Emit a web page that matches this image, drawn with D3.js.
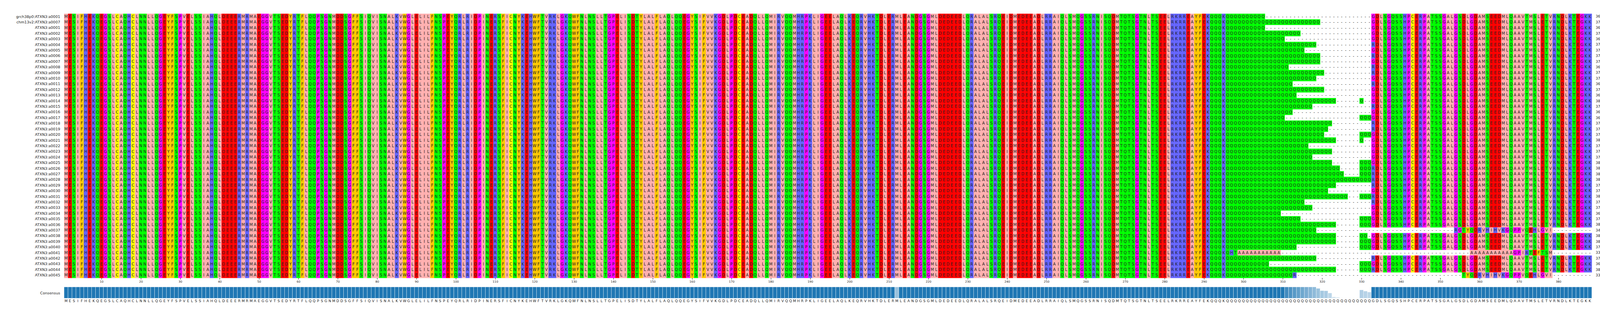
<!DOCTYPE html>
<html><head><meta charset="utf-8">
<script src="https://cdn.jsdelivr.net/npm/d3@7"></script>
<style>html,body{margin:0;background:#fff;overflow:hidden}svg{display:block}</style>
</head><body><svg id="c" width="4139" height="812"></svg>
<script>
const rowNames = ["grch38p0:ATXN3:a0001","chm13v2:ATXN3:a0007"].concat(d3.range(1,46).map(i=>"ATXN3:a"+String(i).padStart(4,"0")));
const prefixSeq = "MESIFHEKQEGSLCAQHCLNNLLQGEYFSPVELSSIAHQLDEEERMRMAEGGVTSEDYRTFLQQPSGNMDDSGFFSIQVISNALKVWGLELILFNSPEY"+
  "QRLRIDPINERSFICNYKEHWFTVRKLGKQWFNLNSLLTGPELISDTYLALFLAQLQQEGYSIFVVKGDLPDCEADQLLQMIRVQQMHRPKLIGEELA"+
  "QLKEQRVHKTDLERMLEANDGSGMLDEDEEDLQRALALSRQEIDMEDEEADLRRAIQLSMQGSSRNISQDMTQTSGTNLTSEELRKRREAYFEKQQQK";
const tailSeq = "DLSGQSSHPCERPATSSGALGSDLGDAMSEEDMLQAAVTMSLETVRNDLKTEGKK";
const nCols = 388;
const qCounts = [10,24,10,19,15,23,20,24,24,16,25,23,17,25,18,28,22,17,15,27,26,25,28,
                 21,27,22,27,29,30,37,28,26,31,20,22,14,19,28,23,28,28,18,0,23,11,28,17];
const qExtra = [0,0,0,0,0,0,0,0,0,0,0,0,0,0,0,1,0,0,3,0,0,3,1,
                0,0,0,3,3,3,0,0,0,3,0,0,0,3,3,0,2,3,3,0,0,3,3,0];
const tailFirst = "GGGGGRGRGRRGRGGGRGGRRGG"+"GGGGRRRRGRRGGGG-GGG-RGR-";
const variantRows = {38:{start:21,seq:"RGTYQDRVHIHVKGQPPVQEHLGVI"},
                     42:{start:25,seq:"AAAAAAAAAAAGPIRTEFTSM",qreg:"QHTAAAAAAAAAAA"},
                     46:{start:23,seq:"TYQDRVHIHVKGQPPVQEHLGVI",qreg:"QQQQQQQQQQQQQQQQQR"}};
const consHeight = {318:0.87,319:0.68,320:0.66,321:0.47,322:0.13,323:0.1,324:0.03,325:0.01,326:0.01,327:0.01,328:0.01,329:0.74,330:0.63,331:0.55};
const consShade = {211:0.45,310:0.85,311:0.8,312:0.75,313:0.7,314:0.65,315:0.6,316:0.55,317:0.5,318:0.45,319:0.4,320:0.38,321:0.3,322:0.2,323:0.15,324:0.1,325:0.05,326:0.05,327:0.05,328:0.05,329:0.35,330:0.32,331:0.3};
const tickVals = d3.range(10,390,10);

const zappo = {I:"#ffafaf",L:"#ffafaf",V:"#ffafaf",A:"#ffafaf",M:"#ffafaf",F:"#ffc800",W:"#ffc800",Y:"#ffc800",
  K:"#6464ff",R:"#6464ff",H:"#6464ff",D:"#ff0000",E:"#ff0000",S:"#00ff00",T:"#00ff00",N:"#00ff00",Q:"#00ff00",
  P:"#ff00ff",G:"#ff00ff",C:"#ffff00"};

const rep = (s,n)=>s.repeat(Math.max(0,n));
const qLen = nCols - prefixSeq.length - tailSeq.length - 1;
const consensus = prefixSeq + rep("Q",qLen) + "G" + tailSeq;
const rows = qCounts.map((q,i)=>{
  const v = variantRows[i];
  const qr = v && v.qreg ? v.qreg : rep("Q",q);
  let qs;
  if(qExtra[i]===0) qs = qr + rep("-",qLen-qr.length);
  else qs = qr + rep("-",qLen-qr.length-3) + (["","Q","QQ","QQQ"][qExtra[i]]+"---").slice(0,3);
  qs = qs.slice(0,qLen);
  let tail;
  if(v){ tail = rep("-",v.start) + v.seq; tail += rep("-",tailSeq.length+1-tail.length); }
  else tail = tailFirst[i] + tailSeq;
  return prefixSeq + qs + tail;
});

const svg = d3.select("#c");
const x = d3.scaleBand().domain(d3.range(nCols)).range([164,4075]);
const y = d3.scaleBand().domain(d3.range(rows.length)).range([35,712]);
const font = "DejaVu Sans, sans-serif";

rows.forEach((s,r)=>{
  const g = svg.append("g");
  const cells = s.split("").map((c,i)=>({c,i})).filter(d=>d.i<nCols);
  g.selectAll("rect").data(cells.filter(d=>d.c!=="-")).join("rect")
    .attr("x",d=>x(d.i)).attr("y",y(r)).attr("width",x.bandwidth()+0.3).attr("height",y.bandwidth()+0.3)
    .attr("fill",d=>zappo[d.c]||"#fff");
  g.selectAll("text").data(cells).join("text")
    .attr("x",d=>x(d.i)+x.bandwidth()/2).attr("y",y(r)+y.bandwidth()/2).attr("dy","0.36em")
    .attr("text-anchor","middle").attr("font-family",font).attr("font-size",10).attr("fill","#222").text(d=>d.c);
  svg.append("text").attr("x",154).attr("y",y(r)+y.bandwidth()/2).attr("dy","0.36em").attr("text-anchor","end")
    .attr("font-family",font).attr("font-size",9.5).attr("fill","#222").text(rowNames[r]);
  svg.append("text").attr("x",4085).attr("y",y(r)+y.bandwidth()/2).attr("dy","0.36em")
    .attr("font-family",font).attr("font-size",9).attr("fill","#222").text(s.replace(/-/g,"").length);
});

const axis = d3.axisBottom(d3.scaleLinear().domain([0.5,nCols+0.5]).range([164,4075]))
  .tickValues(tickVals).tickSize(4).tickFormat(d3.format("d"));
const ag = svg.append("g").attr("transform","translate(0,712)").call(axis);
ag.select(".domain").remove();
ag.selectAll("text").attr("font-family",font).attr("font-size",7.5).attr("fill","#222");
ag.selectAll("line").attr("stroke","#222");

const hY = d3.scaleLinear().domain([0,1]).range([764,735]);
const colr = d3.interpolateRgb("#ffffff","#1f77b4");
svg.append("g").selectAll("rect").data(d3.range(nCols)).join("rect")
  .attr("x",i=>x(i)).attr("width",x.bandwidth())
  .attr("y",i=>hY(consHeight[i]??1)).attr("height",i=>hY(0)-hY(consHeight[i]??1))
  .attr("fill",i=>colr(consShade[i]??1)).attr("stroke","#fff").attr("stroke-width",0.6);
svg.append("g").selectAll("text").data(consensus.split("").slice(0,nCols)).join("text")
  .attr("x",(d,i)=>x(i)+x.bandwidth()/2).attr("y",771).attr("dy","0.36em").attr("text-anchor","middle")
  .attr("font-family",font).attr("font-size",9).attr("fill","#222").text(d=>d);
svg.append("text").attr("x",154).attr("y",751).attr("dy","0.36em").attr("text-anchor","end")
  .attr("font-family",font).attr("font-size",9.5).attr("fill","#222").text("Consensus");
</script></body></html>
